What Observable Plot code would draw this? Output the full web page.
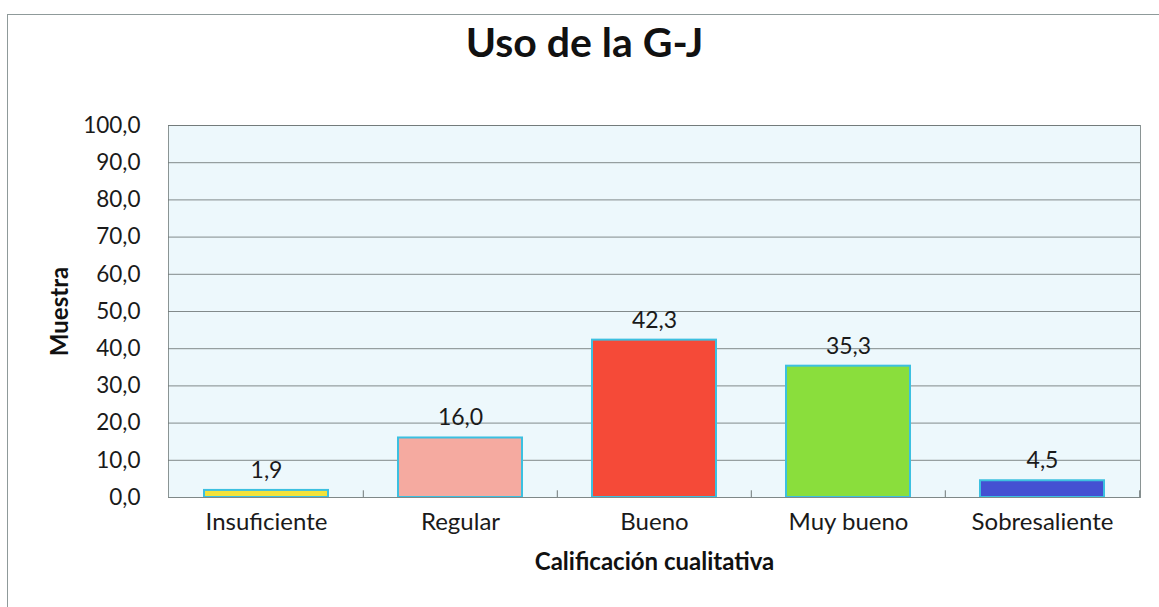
<!DOCTYPE html>
<html>
<head>
<meta charset="utf-8">
<script src="https://cdn.jsdelivr.net/npm/d3@7"></script>
<script src="https://cdn.jsdelivr.net/npm/@observablehq/plot@0.6"></script>
<style>
  body { margin: 0; background: #fff; font-family: Lato, "Open Sans", sans-serif; }
  #wrap { position: relative; width: 1159px; height: 607px; overflow: hidden; }
  #border { position: absolute; left: 7px; top: 14px; width: 1300px; height: 800px;
            border-left: 1px solid #8f9a9a; border-top: 1px solid #8f9a9a; pointer-events: none; }
  #title { height: 80px; box-sizing: border-box; padding-top: 18px; padding-left: 10px;
           line-height: 48px; font-size: 41px; font-weight: bold; text-align: center; color: #111; }
  svg { display: block; }
</style>
</head>
<body>
<div id="wrap">
  <div id="border"></div>
  <div id="title">Uso de la G-J</div>
  <div id="chart"></div>
</div>
<script>
const categories = ["Insuficiente", "Regular", "Bueno", "Muy bueno", "Sobresaliente"];
const values = [1.9, 16.0, 42.3, 35.3, 4.5];
const colors = ["#f2e23a", "#f5aaa0", "#f54a38", "#8ade3c", "#4450d2"];
const yTicks = [0, 10, 20, 30, 40, 50, 60, 70, 80, 90, 100];
const title = "Uso de la G-J";
const xLabel = "Calificación cualitativa";
const yLabel = "Muestra";

const data = categories.map((c, i) => ({ cat: c, val: values[i] }));
const fmt = d => d.toFixed(1).replace(".", ",");

const W = 1159, H = 527, mL = 168, mR = 19, mT = 45, mB = 110;
const step = (W - mL - mR) / categories.length;

const chart = Plot.plot({
  width: W, height: H,
  marginLeft: mL, marginRight: mR, marginTop: mT, marginBottom: mB,
  style: { fontFamily: "Lato, 'Open Sans', sans-serif", fontSize: "22px", color: "#1a1a1a", background: "transparent" },
  x: { domain: categories, paddingInner: 0.36, paddingOuter: 0.18, label: null },
  y: { domain: [0, 100], label: null },
  color: { domain: categories, range: colors },
  marks: [
    Plot.frame({ fill: "#edf8fc", stroke: "#8a9494" }),
    Plot.gridY(yTicks, { stroke: "#6f7777", strokeOpacity: 0.85 }),
    Plot.barY(data, { x: "cat", y: "val", fill: "cat", stroke: "#3cc0e0", strokeWidth: 2 }),
    Plot.ruleX(categories.slice(1), { x: d => d, y1: 0, y2: 1.8, dx: -step / 2, stroke: "#6f7777" }),
    Plot.ruleX(categories.slice(-1), { x: d => d, y1: 0, y2: 1.8, dx: step / 2, stroke: "#6f7777" }),
    Plot.ruleY([0], { stroke: "#7f8888" }),
    Plot.text(data, { x: "cat", y: "val", text: d => fmt(d.val), dy: -20, fontSize: 23, fill: "#1a1a1a" }),
    Plot.axisY(yTicks, { tickSize: 0, tickPadding: 28, tickFormat: fmt, label: null, fontSize: 22.5 }),
    Plot.axisX({ tickSize: 0, tickPadding: 15, label: null, fontSize: 24 }),
    Plot.text([xLabel], { frameAnchor: "bottom", dy: 72, fontWeight: "bold", fontSize: 24, fill: "#111" }),
    Plot.text([yLabel], { frameAnchor: "left", textAnchor: "middle", rotate: -90, dx: -108, fontWeight: "bold", fontSize: 24, fill: "#111" })
  ]
});
document.getElementById("chart").appendChild(chart);
</script>
</body>
</html>
